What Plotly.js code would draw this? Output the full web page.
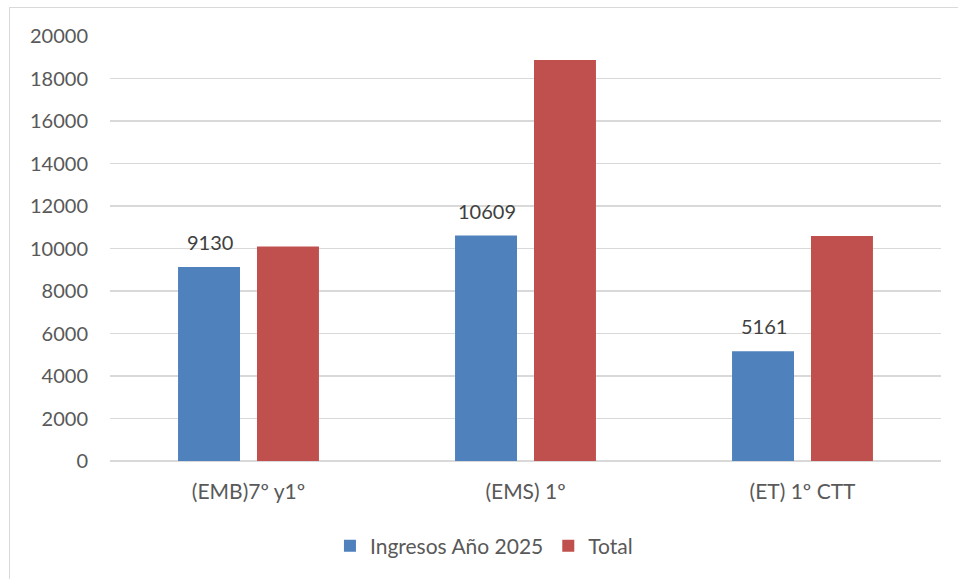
<!DOCTYPE html>
<html>
<head>
<meta charset="utf-8">
<script src="https://cdn.plot.ly/plotly-3.0.1.min.js"></script>
<style>
html,body{margin:0;padding:0;background:#fff;}
#wrap{position:relative;width:958px;height:579px;overflow:hidden;}
#chart{position:absolute;left:0;top:0;width:958px;height:579px;}
#frame{position:absolute;left:9px;top:7px;width:960px;height:600px;border-left:1px solid #d9d9d9;border-top:1px solid #d9d9d9;pointer-events:none;}
</style>
</head>
<body>
<div id="wrap"><div id="chart"></div><div id="frame"></div></div>
<script>
const categories = ["(EMB)7º y1º", "(EMS) 1º", "(ET) 1º CTT"];
const ingresos = [9130, 10609, 5161];
const total = [10100, 18870, 10590];
const seriesNames = ["Ingresos Año 2025", "Total"];
const yTicks = [0, 2000, 4000, 6000, 8000, 10000, 12000, 14000, 16000, 18000, 20000];

const font = "Lato, 'Open Sans', 'Liberation Sans', sans-serif";
const textColor = "#595959";

const traces = [
  {type: "bar", name: seriesNames[0], x: categories, y: ingresos,
   marker: {color: "#4f81bd"}, hoverinfo: "none"},
  {type: "bar", name: seriesNames[1], x: categories, y: total,
   marker: {color: "#c0504d"}, hoverinfo: "none"}
];

const annotations = categories.map((c, i) => ({
  x: c, y: ingresos[i], xref: "x", yref: "y",
  text: String(ingresos[i]), showarrow: false,
  xshift: -39, yshift: 25,
  font: {family: font, size: 20, color: "#404040"}
}));

const layout = {
  width: 958, height: 579,
  margin: {l: 110, r: 17, t: 36, b: 118},
  paper_bgcolor: "#fff", plot_bgcolor: "#fff",
  barmode: "group", bargap: 0.43, bargroupgap: 0.215,
  font: {family: font, color: textColor, size: 20},
  xaxis: {type: "category", showgrid: false, zeroline: false,
          showline: false, ticks: "", tickfont: {size: 21, color: textColor},
          ticklabelstandoff: 16},
  yaxis: {range: [0, 20000], tickvals: yTicks, ticktext: yTicks.map(String),
          showgrid: true, gridcolor: "#d9d9d9", gridwidth: 1.5,
          zeroline: true, zerolinecolor: "#d9d9d9", zerolinewidth: 1.5,
          showline: false, ticks: "", tickfont: {size: 20, color: textColor},
          ticklabelstandoff: 21},
  legend: {orientation: "h", x: 0.45, xanchor: "center", y: -0.2, yanchor: "middle",
           font: {size: 21, color: textColor}, itemwidth: 30},
  annotations: annotations,
  showlegend: true
};

Plotly.newPlot("chart", traces, layout, {displayModeBar: false, staticPlot: true});
</script>
</body>
</html>
